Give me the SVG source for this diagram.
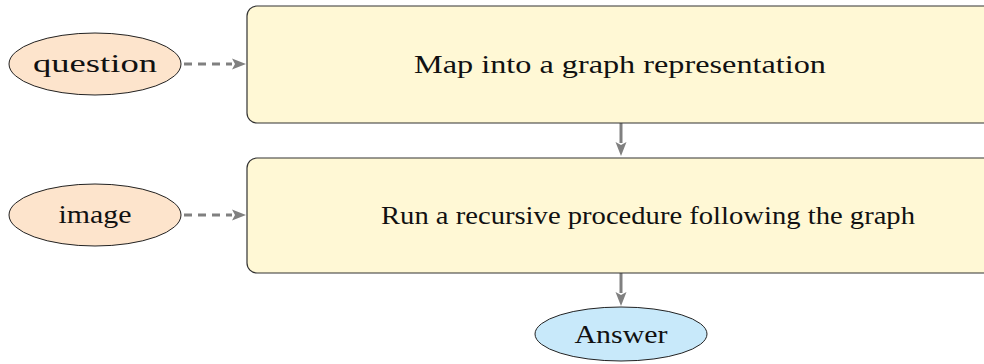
<svg xmlns="http://www.w3.org/2000/svg" width="984" height="364" viewBox="0 0 984 364">
<style>
.box{fill:#fff8d5;stroke:#333;stroke-width:1.2}
.in{fill:#fde4cc;stroke:#222;stroke-width:1}
.out{fill:#c8e9fa;stroke:#222;stroke-width:1}
text{font-family:"Liberation Serif","DejaVu Serif",serif;font-size:26px;fill:#111;text-anchor:middle}
.dash{stroke:#808080;stroke-width:3;stroke-dasharray:8,6;fill:none}
.solid{stroke:#808080;stroke-width:3;fill:none}
</style>
<g id="connectors">
<path class="dash" d="M184,64 H232"/><path d="M232,58.5 L246,64 L232,69.5 L235,64 Z" fill="#808080"/>
<path class="dash" d="M184,215 H232"/><path d="M232,209.5 L246,215 L232,220.5 L235,215 Z" fill="#808080"/>
<path class="solid" d="M621,123 V143"/><path d="M615.5,142 L621,156 L626.5,142 L621,145 Z" fill="#808080"/>
<path class="solid" d="M621,273 V293"/><path d="M615.5,292 L621,306 L626.5,292 L621,295 Z" fill="#808080"/>
</g>
<g id="map"><rect class="box" x="247" y="6" width="780" height="117" rx="10"/><text x="620" y="73" textLength="412" lengthAdjust="spacingAndGlyphs">Map into a graph representation</text></g>
<g id="run"><rect class="box" x="247" y="158" width="780" height="115" rx="10"/><text x="648" y="224" textLength="534" lengthAdjust="spacingAndGlyphs">Run a recursive procedure following the graph</text></g>
<g id="question"><ellipse class="in" cx="95" cy="64" rx="86" ry="31"/><text x="95" y="72" textLength="124" lengthAdjust="spacingAndGlyphs">question</text></g>
<g id="image"><ellipse class="in" cx="95" cy="215" rx="86" ry="31"/><text x="95" y="223" textLength="73" lengthAdjust="spacingAndGlyphs">image</text></g>
<g id="answer"><ellipse class="out" cx="621" cy="334" rx="86" ry="27"/><text x="621" y="343" textLength="93" lengthAdjust="spacingAndGlyphs">Answer</text></g>
</svg>
